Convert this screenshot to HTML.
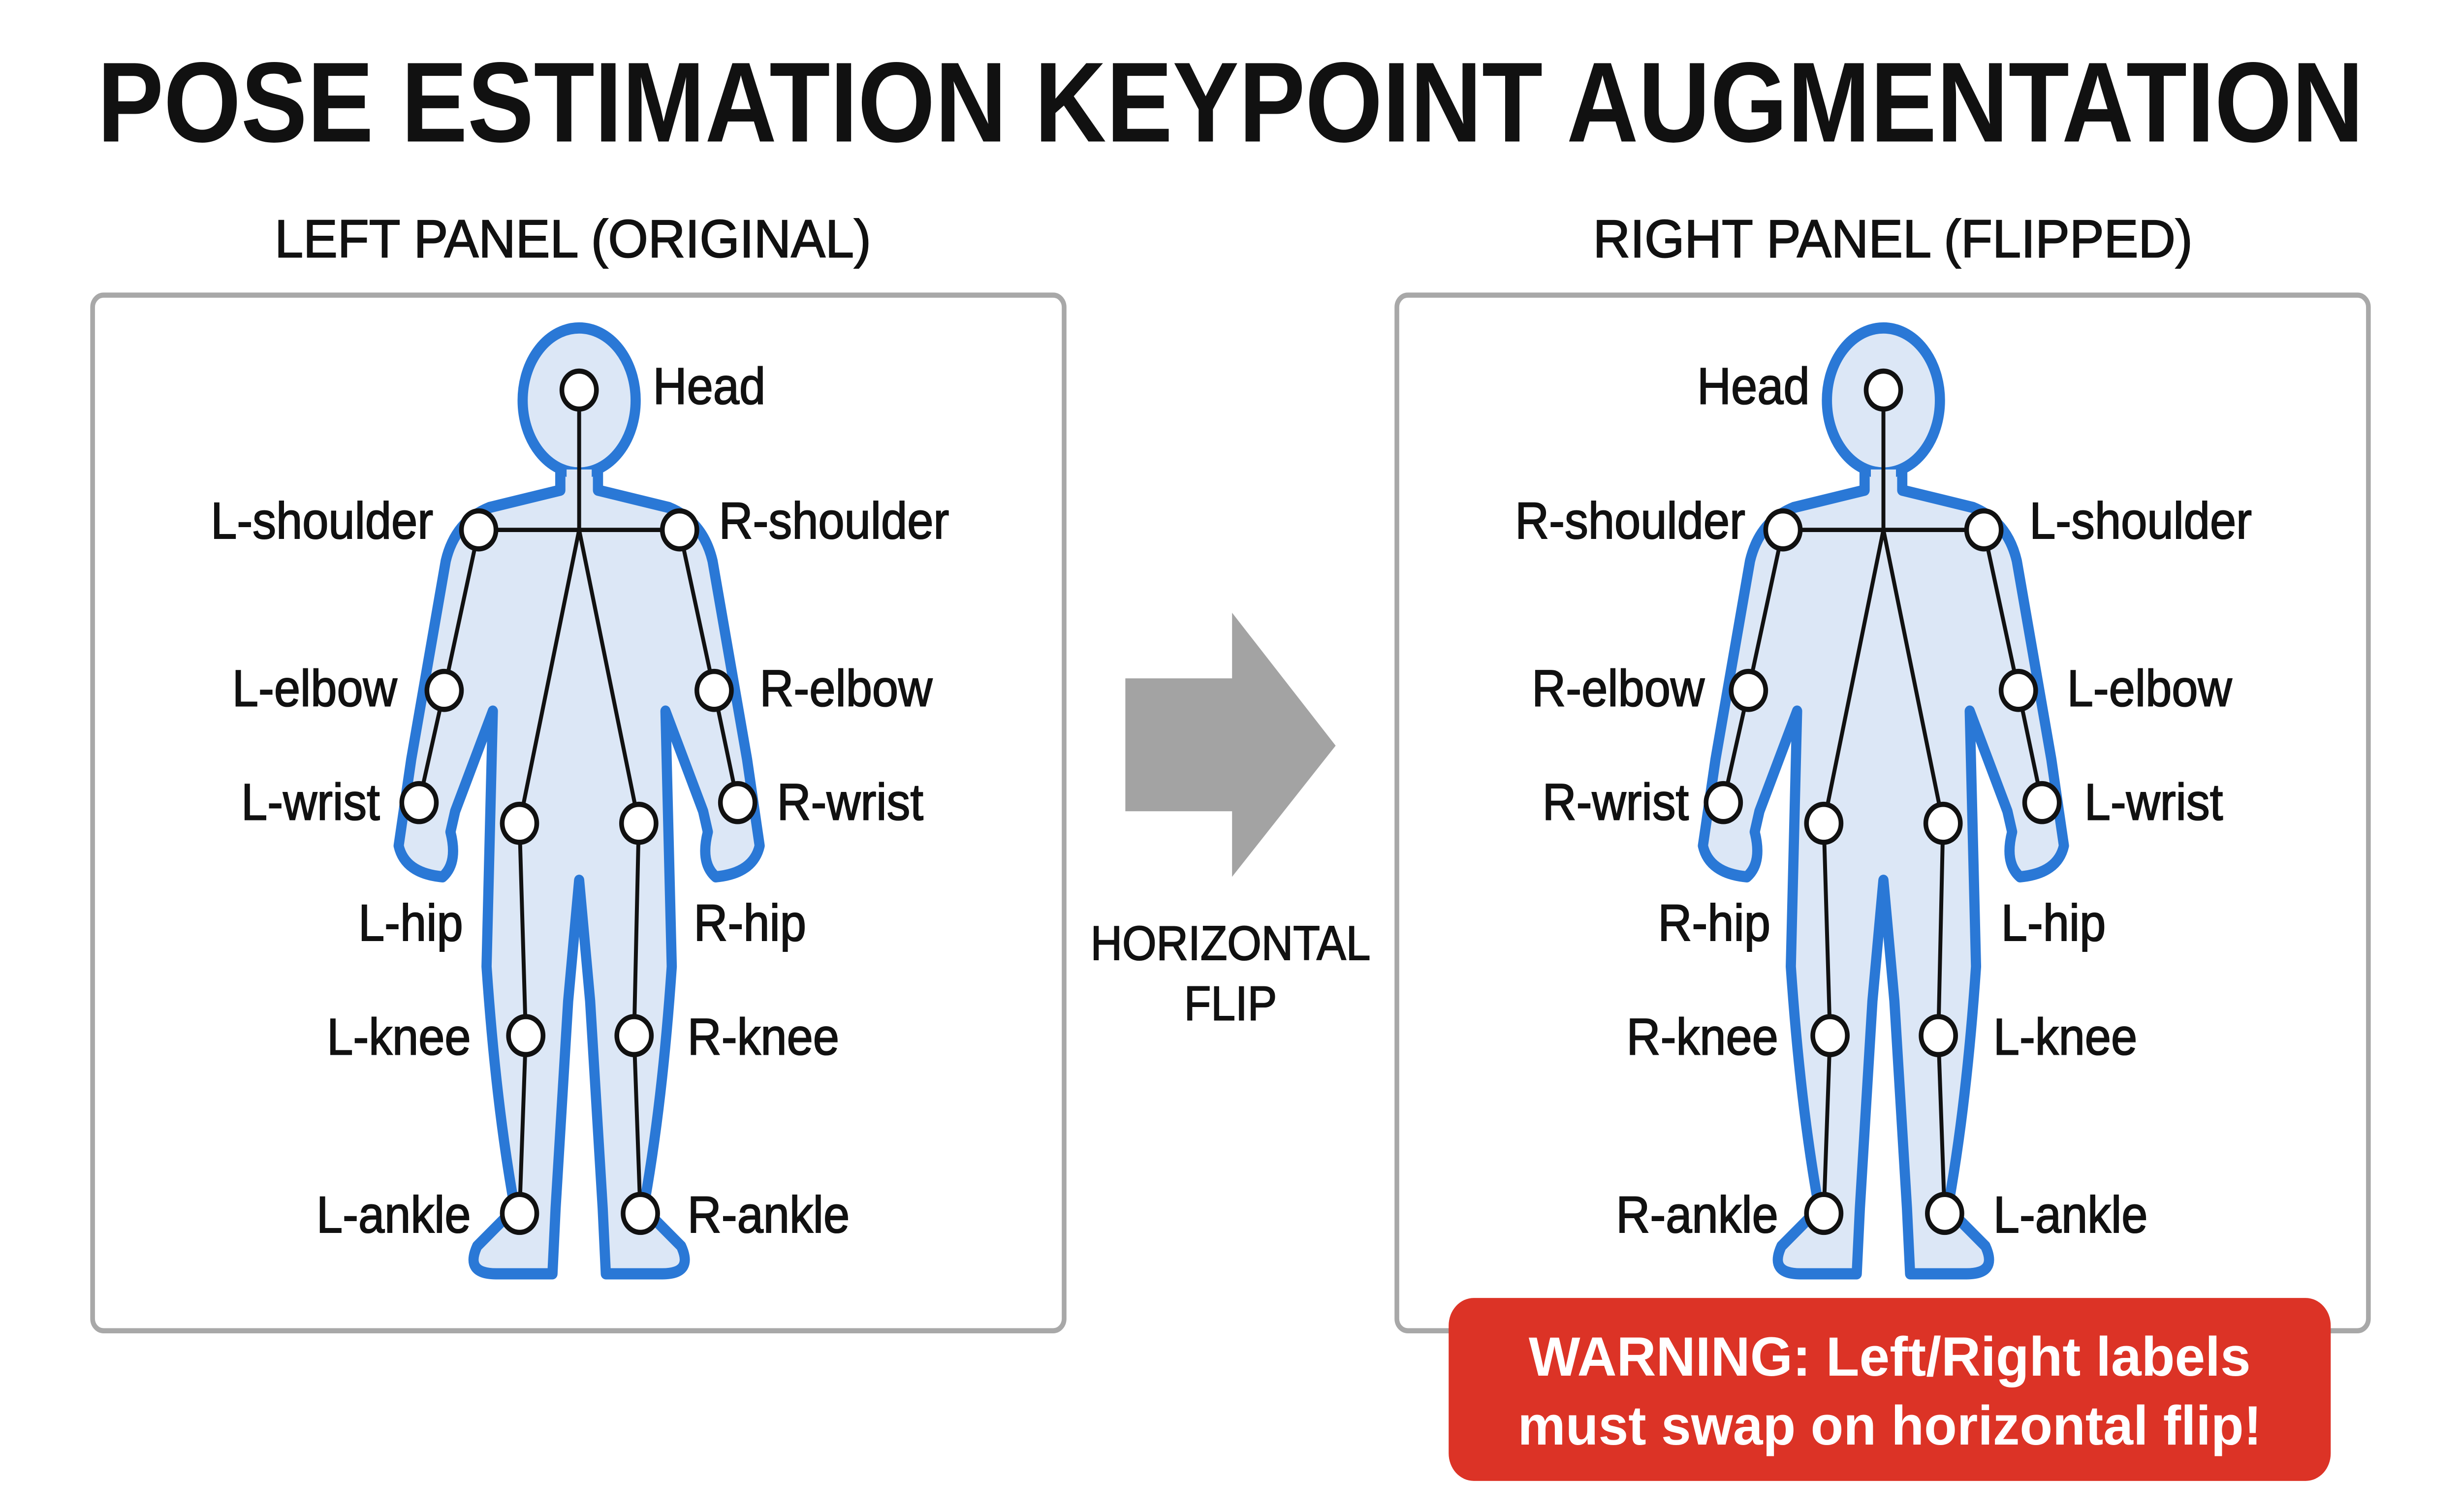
<!DOCTYPE html>
<html><head><meta charset="utf-8"><style>
html,body{margin:0;padding:0;background:#fff;width:100%;height:100%;overflow:hidden;}
svg{display:block;position:fixed;left:0;top:0;width:100vw;height:100vh;}
text{font-family:"Liberation Sans",sans-serif;}
</style></head><body>
<svg viewBox="0 0 1568 876" preserveAspectRatio="none" xmlns="http://www.w3.org/2000/svg">
<rect width="1568" height="876" fill="#fff"/>
<text x="784" y="82" text-anchor="middle" font-size="66" font-weight="bold" fill="#111" textLength="1444" lengthAdjust="spacingAndGlyphs">POSE ESTIMATION KEYPOINT AUGMENTATION</text>
<text x="365" y="149" text-anchor="middle" font-size="31" fill="#111" stroke="#111" stroke-width="0.6" textLength="380" lengthAdjust="spacingAndGlyphs">LEFT PANEL (ORIGINAL)</text>
<text x="1206" y="149" text-anchor="middle" font-size="31" fill="#111" stroke="#111" stroke-width="0.6" textLength="382" lengthAdjust="spacingAndGlyphs">RIGHT PANEL (FLIPPED)</text>
<rect x="59" y="171" width="619" height="600" rx="7" fill="#fff" stroke="#a8a8a8" stroke-width="3"/>
<rect x="890" y="171" width="619" height="600" rx="7" fill="#fff" stroke="#a8a8a8" stroke-width="3"/>
<polygon points="717,393 785,393 785,355 851,432 785,508 785,470 717,470" fill="#a3a3a3"/>
<text x="784" y="556" text-anchor="middle" font-size="28" fill="#111" stroke="#111" stroke-width="0.6">HORIZONTAL</text>
<text x="784" y="591" text-anchor="middle" font-size="28" fill="#111" stroke="#111" stroke-width="0.6">FLIP</text>
<defs>
<g id="fig">
<path d="M357,268 L357,284 L312,294 Q290,302 284,325 L262,440 L254,490 Q258,506 282,508 Q292,500 287,482 L290,470 L314,412 L310,560 Q316,640 328,700 L304,722 Q296,738 316,738 L352,738 L354,700 Q358,640 362,580 L369,510 L376,580 Q380,640 384,700 L386,738 L422,738 Q442,738 434,722 L410,700 Q422,640 428,560 L424,412 L448,470 L451,482 Q446,500 456,508 Q480,506 484,490 L476,440 L454,325 Q448,302 426,294 L381,284 L381,268 Z" fill="#dce7f6" stroke="#2a78d6" stroke-width="6.5" stroke-linejoin="round"/>
<ellipse cx="369" cy="232" rx="36" ry="42" fill="#dce7f6" stroke="#2a78d6" stroke-width="6.5"/>
<rect x="361" y="272" width="16" height="14" fill="#dce7f6"/>
<g stroke="#111" stroke-width="2.5" fill="none">
<line x1="369" y1="226" x2="369" y2="307"/>
<line x1="305" y1="307" x2="433" y2="307"/>
<line x1="369" y1="307" x2="331" y2="477"/>
<line x1="369" y1="307" x2="407" y2="477"/>
<polyline points="305,307 283,400 267,465"/>
<polyline points="433,307 455,400 470,465"/>
<polyline points="331,477 335,600 331,703"/>
<polyline points="407,477 404,600 408,703"/>
</g>
<g fill="#fff" stroke="#111" stroke-width="3">
<circle cx="369" cy="226" r="11"/>
<circle cx="305" cy="307" r="11"/><circle cx="433" cy="307" r="11"/>
<circle cx="283" cy="400" r="11"/><circle cx="455" cy="400" r="11"/>
<circle cx="267" cy="465" r="11"/><circle cx="470" cy="465" r="11"/>
<circle cx="331" cy="477" r="11"/><circle cx="407" cy="477" r="11"/>
<circle cx="335" cy="600" r="11"/><circle cx="404" cy="600" r="11"/>
<circle cx="331" cy="703" r="11"/><circle cx="408" cy="703" r="11"/>
</g>
</g>
</defs>
<use href="#fig"/>
<use href="#fig" transform="translate(831,0)"/>
<g font-size="30" fill="#111" stroke="#111" stroke-width="0.6">
<text x="416" y="234">Head</text>
<text x="276" y="312" text-anchor="end">L-shoulder</text>
<text x="458" y="312">R-shoulder</text>
<text x="253" y="409" text-anchor="end">L-elbow</text>
<text x="484" y="409">R-elbow</text>
<text x="242" y="475" text-anchor="end">L-wrist</text>
<text x="495" y="475">R-wrist</text>
<text x="295" y="545" text-anchor="end">L-hip</text>
<text x="442" y="545">R-hip</text>
<text x="300" y="611" text-anchor="end">L-knee</text>
<text x="438" y="611">R-knee</text>
<text x="300" y="714" text-anchor="end">L-ankle</text>
<text x="438" y="714">R-ankle</text>

<text x="1153" y="234" text-anchor="end">Head</text>
<text x="1112" y="312" text-anchor="end">R-shoulder</text>
<text x="1293" y="312">L-shoulder</text>
<text x="1086" y="409" text-anchor="end">R-elbow</text>
<text x="1317" y="409">L-elbow</text>
<text x="1076" y="475" text-anchor="end">R-wrist</text>
<text x="1328" y="475">L-wrist</text>
<text x="1128" y="545" text-anchor="end">R-hip</text>
<text x="1275" y="545">L-hip</text>
<text x="1133" y="611" text-anchor="end">R-knee</text>
<text x="1270" y="611">L-knee</text>
<text x="1133" y="714" text-anchor="end">R-ankle</text>
<text x="1270" y="714">L-ankle</text>
</g>
<rect x="923" y="752" width="562" height="106" rx="16" fill="#dc3326"/>
<text x="1204" y="797" text-anchor="middle" font-size="32" font-weight="bold" fill="#fff" textLength="460" lengthAdjust="spacingAndGlyphs">WARNING: Left/Right labels</text>
<text x="1204" y="837" text-anchor="middle" font-size="32" font-weight="bold" fill="#fff" textLength="474" lengthAdjust="spacingAndGlyphs">must swap on horizontal flip!</text>
</svg>
</body></html>
